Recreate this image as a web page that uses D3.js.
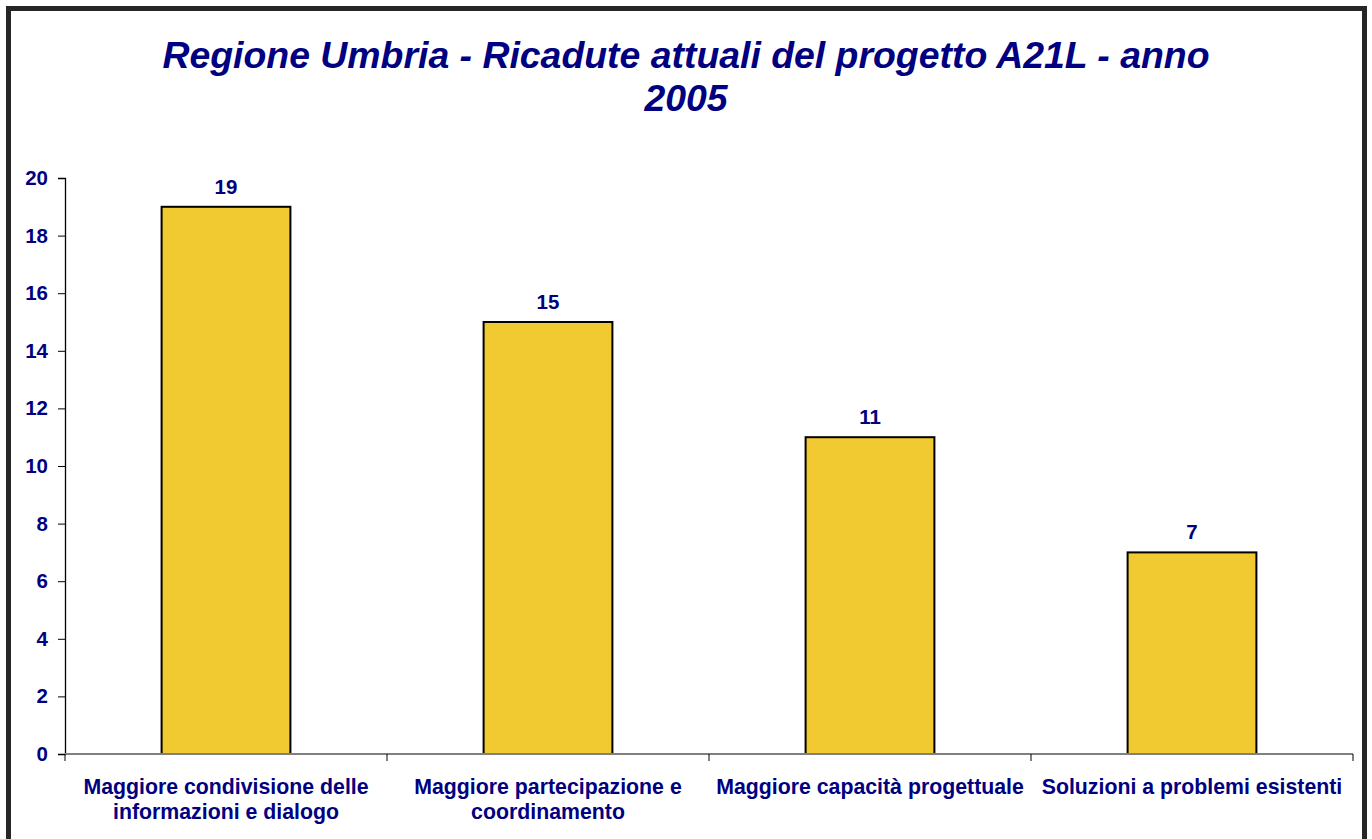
<!DOCTYPE html>
<html>
<head>
<meta charset="utf-8">
<script src="https://cdn.jsdelivr.net/npm/d3@7"></script>
<style>
  body { margin: 0; background: #fff; }
  text { font-family: "Liberation Sans", Arial, sans-serif; }
</style>
</head>
<body>
<script>
// data
var categories = [
  ["Maggiore condivisione delle", "informazioni e dialogo"],
  ["Maggiore partecipazione e", "coordinamento"],
  ["Maggiore capacità progettuale"],
  ["Soluzioni a problemi esistenti"]
];
var values = [19, 15, 11, 7];
var yTicks = [0, 2, 4, 6, 8, 10, 12, 14, 16, 18, 20];
var titleLines = ["Regione Umbria - Ricadute attuali del progetto A21L - anno", "2005"];

var W = 1372, H = 839;
var navy = "#000080";

var svg = d3.select("body").append("svg")
    .attr("width", W)
    .attr("height", H);

// outer frame
svg.append("rect")
    .attr("x", 8.5).attr("y", 8.5)
    .attr("width", 1356).attr("height", 850)
    .attr("fill", "#fff")
    .attr("stroke", "#262626")
    .attr("stroke-width", 5);

// title
svg.append("g").selectAll("text")
    .data(titleLines)
    .enter().append("text")
    .attr("x", 686)
    .attr("y", function(d, i) { return 68 + i * 43; })
    .attr("text-anchor", "middle")
    .attr("fill", navy)
    .attr("font-size", "37.4px")
    .attr("font-weight", "bold")
    .attr("font-style", "italic")
    .text(function(d) { return d; });

// plot area
var plotLeft = 65, plotRight = 1353, plotTop = 178, plotBottom = 754;

var x = d3.scaleBand()
    .domain(d3.range(categories.length))
    .range([plotLeft, plotRight])
    .paddingInner(0)
    .paddingOuter(0);
var y = d3.scaleLinear()
    .domain([0, 20])
    .range([plotBottom, plotTop]);

var barW = x.bandwidth() * 0.4;

svg.selectAll(".bar")
    .data(values)
    .enter().append("rect")
    .attr("class", "bar")
    .attr("x", function(d, i) { return x(i) + (x.bandwidth() - barW) / 2; })
    .attr("y", function(d) { return y(d); })
    .attr("width", barW)
    .attr("height", function(d) { return plotBottom - y(d); })
    .attr("fill", "#f0ca30")
    .attr("stroke", "#000")
    .attr("stroke-width", 2);

// value labels
svg.selectAll(".val")
    .data(values)
    .enter().append("text")
    .attr("class", "val")
    .attr("x", function(d, i) { return x(i) + x.bandwidth() / 2; })
    .attr("y", function(d) { return y(d) - 13; })
    .attr("text-anchor", "middle")
    .attr("fill", navy)
    .attr("font-size", "20.5px")
    .attr("font-weight", "bold")
    .text(function(d) { return d; });

// y axis
var yAxis = svg.append("g")
    .attr("transform", "translate(" + plotLeft + ",0)")
    .call(d3.axisLeft(y).tickValues(yTicks).tickSize(7).tickPadding(10));
yAxis.select(".domain").attr("stroke", "#000").attr("stroke-width", 1.3);
yAxis.selectAll(".tick line").attr("stroke", "#000");
yAxis.selectAll("text")
    .attr("fill", navy)
    .attr("font-size", "20.5px")
    .attr("font-weight", "bold")
    .attr("font-family", "Liberation Sans, Arial, sans-serif");

// x axis
var xAxis = svg.append("g")
    .attr("transform", "translate(0," + plotBottom + ")");
xAxis.append("line")
    .attr("x1", plotLeft).attr("x2", plotRight)
    .attr("y1", 0).attr("y2", 0)
    .attr("stroke", "#808080")
    .attr("stroke-width", 2);
xAxis.selectAll(".xt")
    .data(d3.range(categories.length + 1))
    .enter().append("line")
    .attr("class", "xt")
    .attr("x1", function(d) { return plotLeft + d * x.bandwidth(); })
    .attr("x2", function(d) { return plotLeft + d * x.bandwidth(); })
    .attr("y1", 0).attr("y2", 7)
    .attr("stroke", "#000");

var catLabels = xAxis.selectAll(".cat")
    .data(categories)
    .enter().append("text")
    .attr("class", "cat")
    .attr("x", function(d, i) { return x(i) + x.bandwidth() / 2; })
    .attr("y", 40)
    .attr("text-anchor", "middle")
    .attr("fill", navy)
    .attr("font-size", "21.3px")
    .attr("font-weight", "bold");
catLabels.selectAll("tspan")
    .data(function(d) { return d; })
    .enter().append("tspan")
    .attr("x", function() { return d3.select(this.parentNode).attr("x"); })
    .attr("dy", function(d, i) { return i === 0 ? 0 : 25; })
    .text(function(d) { return d; });
</script>
</body>
</html>
